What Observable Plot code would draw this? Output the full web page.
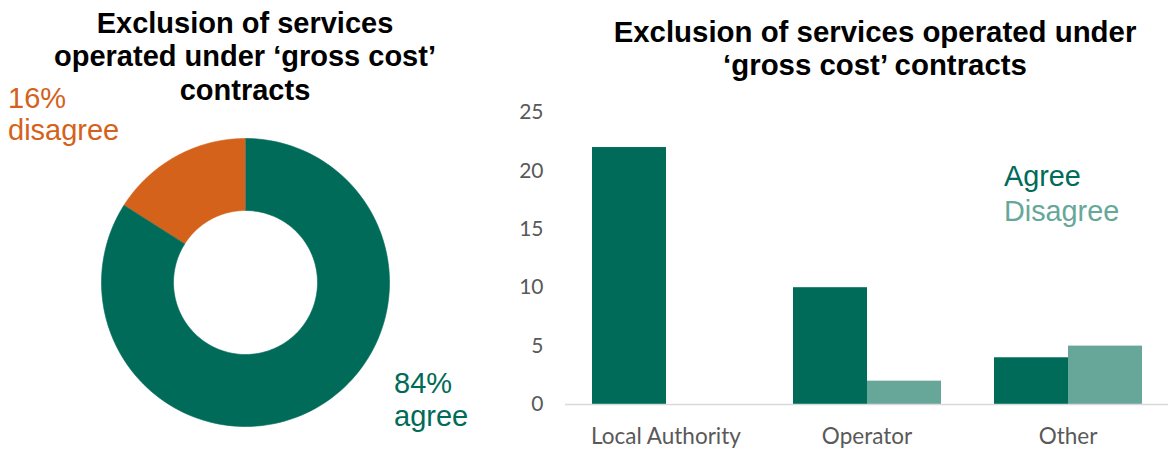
<!DOCTYPE html>
<html>
<head>
<meta charset="utf-8">
<script src="https://cdn.jsdelivr.net/npm/d3@7"></script>
<script src="https://cdn.jsdelivr.net/npm/@observablehq/plot@0.6"></script>
<style>
  body { margin: 0; background: #fff; }
  #root { position: relative; width: 1169px; height: 451px; overflow: hidden; background: #fff;
          font-family: "Liberation Sans", Arial, sans-serif; }
  .abs { position: absolute; }
  .title { font-weight: bold; font-size: 29px; line-height: 33.5px; color: #000; text-align: center; }
</style>
</head>
<body>
<div id="root"></div>
<script>
// ---- Data ----
const donutTitle = ["Exclusion of services", "operated under \u2018gross cost\u2019", "contracts"];
const donutNames = ["disagree", "agree"];
const donutShares = [16, 84];

const barTitle = ["Exclusion of services operated under", "\u2018gross cost\u2019 contracts"];
const categories = ["Local Authority", "Operator", "Other"];
const seriesNames = ["Agree", "Disagree"];
const agreeValues = [22, 10, 4];
const disagreeValues = [0, 2, 5];
const yTicks = [0, 5, 10, 15, 20, 25];

// ---- Colours ----
const green = "#006B58";
const lightGreen = "#67A79A";
const orange = "#D4621A";
const grey = "#595959";

const root = document.getElementById("root");

// ---- Donut (left) ----
const R = 144; // px per unit
const inner = 0.5;
const total = d3.sum(donutShares);
let a = -2 * Math.PI * donutShares[0] / total;
const ringPts = [];
donutNames.forEach((name, i) => {
  const a0 = a, a1 = a + 2 * Math.PI * donutShares[i] / total;
  const n = 160;
  for (let k = 0; k <= n; k++) {
    const t = a0 + (a1 - a0) * k / n;
    ringPts.push({name, x: Math.sin(t), y: Math.cos(t)});
  }
  for (let k = n; k >= 0; k--) {
    const t = a0 + (a1 - a0) * k / n;
    ringPts.push({name, x: inner * Math.sin(t), y: inner * Math.cos(t)});
  }
  a = a1;
});

const donut = Plot.plot({
  width: 490, height: 451, margin: 0,
  x: {domain: [-245 / R, 245 / R], axis: null},
  y: {domain: [-169 / R, 282 / R], axis: null},
  color: {domain: donutNames, range: [orange, green]},
  marks: [
    Plot.line(ringPts, {x: "x", y: "y", z: "name", fill: "name", stroke: "name", strokeWidth: 0.6, curve: "linear"})
  ]
});
donut.classList.add("abs");
donut.style.left = "0px"; donut.style.top = "0px";
root.appendChild(donut);

// ---- Grouped bars (right) ----
const rows = [];
categories.forEach((c, i) => {
  rows.push({category: c, series: seriesNames[0], value: agreeValues[i]});
  rows.push({category: c, series: seriesNames[1], value: disagreeValues[i]});
});

const bars = Plot.plot({
  width: 669, height: 361,
  marginLeft: 64, marginRight: 0, marginTop: 22, marginBottom: 47,
  style: {fontFamily: "Lato, 'Open Sans', sans-serif", fontSize: "21px", color: grey, background: "transparent"},
  fx: {domain: categories, padding: 0, label: null},
  x: {domain: seriesNames, paddingInner: 0, paddingOuter: 0.345, axis: null},
  y: {domain: [0, 25], label: null},
  color: {domain: seriesNames, range: [green, lightGreen]},
  marks: [
    Plot.axisY({ticks: yTicks, tickSize: 0, tickPadding: 22, fontSize: 21, label: null}),
    Plot.axisFx({anchor: "bottom", tickSize: 0, tickPadding: 24, fontSize: 22.5, label: null}),
    Plot.barY(rows, {fx: "category", x: "series", y: "value", fill: "series"}),
    Plot.ruleY([0], {stroke: "#D9D9D9", strokeWidth: 1.5})
  ]
});
bars.classList.add("abs");
bars.style.left = "500px"; bars.style.top = "90px";
root.appendChild(bars);

// ---- Text: titles, labels, legend ----
function addDiv(html, css, cls) {
  const d = document.createElement("div");
  d.className = "abs " + (cls || "");
  d.innerHTML = html;
  Object.assign(d.style, css);
  root.appendChild(d);
  return d;
}
addDiv(donutTitle.join("<br>"), {left: "0px", top: "6.5px", width: "490px"}, "title");
addDiv(barTitle.join("<br>"), {left: "595px", top: "14.5px", width: "560px", fontSize: "29.4px"}, "title");

const pct = donutShares.map(v => Math.round(100 * v / total) + "%");
addDiv(pct[0] + "<br>" + donutNames[0], {left: "8px", top: "82px", fontSize: "29px", lineHeight: "32px", color: orange});
addDiv(pct[1] + "<br>" + donutNames[1], {left: "394px", top: "367px", fontSize: "29px", lineHeight: "32.5px", color: green});

addDiv(`<span style="color:${green}">${seriesNames[0]}</span><br><span style="color:${lightGreen}">${seriesNames[1]}</span>`,
  {left: "1004px", top: "159px", fontSize: "28.8px", lineHeight: "35px"});
</script>
</body>
</html>
